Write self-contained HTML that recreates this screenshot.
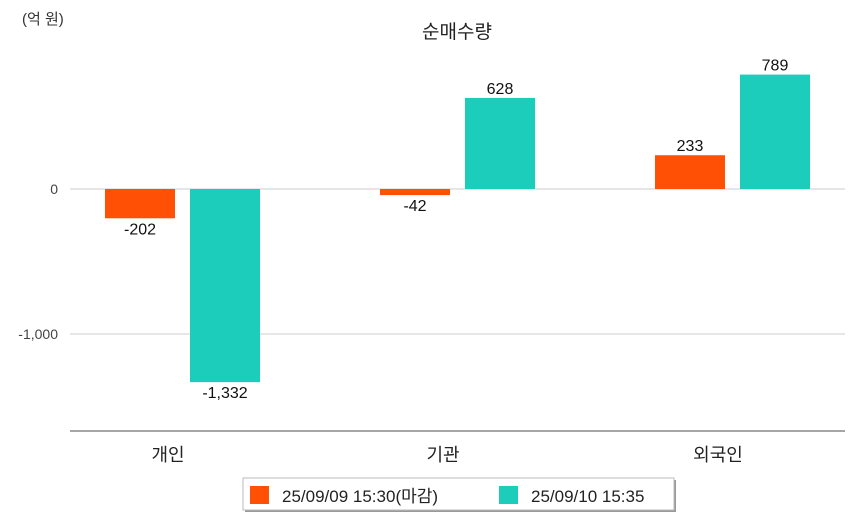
<!DOCTYPE html>
<html><head><meta charset="utf-8"><style>
body{margin:0;background:#fff}
svg{font-family:"Liberation Sans","Noto Sans CJK KR",sans-serif;display:block}
</style></head><body>
<svg id="c" width="854" height="520">
<text x="22" y="24" font-size="15" fill="#333">(억 원)</text>
<text x="457" y="38" font-size="19" fill="#222" text-anchor="middle">순매수량</text>
<g id="grid"></g><g id="bars"></g>
<line x1="70" y1="431" x2="845" y2="431" stroke="#888" stroke-width="1.5"/>
<g>
<rect x="245" y="480" width="431" height="32" fill="#999"/>
<rect x="243" y="478" width="431" height="32" fill="#fff" stroke="#bbb"/>
<g><rect x="250" y="486" width="19" height="18" fill="#ff5005"/><text x="282" y="502" font-size="17" fill="#222">25/09/09 15:30(마감)</text></g>
<g><rect x="499" y="486" width="19" height="18" fill="#1ccdbb"/><text x="531" y="502" font-size="17" fill="#222">25/09/10 15:35</text></g>
</g>
</svg>
<script>
const categories=["개인","기관","외국인"];
const series1=[-202,-42,233];
const series2=[-1332,628,789];
const yTicks=[0,-1000];
const yTickLabels=["0","-1,000"];
const ns="http://www.w3.org/2000/svg";
const y=v=>189-v*0.145;
const cx=i=>182+i*275;
function mk(t,a,p){const e=document.createElementNS(ns,t);for(const k in a)e.setAttribute(k,a[k]);p.appendChild(e);return e;}
const grid=document.getElementById('grid'),bars=document.getElementById('bars');
yTicks.forEach((v,i)=>{
  const l=mk('line',{x1:70,x2:845,y1:y(v),y2:y(v),stroke:'#ccc'},grid);
  
  
  const t=mk('text',{x:58,y:y(v)+5,'font-size':14,fill:'#444','text-anchor':'end'},grid);
  t.textContent=yTickLabels[i];
  
  
});
const fmt=v=>v.toLocaleString('en-US');
categories.forEach((c,i)=>{
  const t=mk('text',{x:cx(i)-14,y:461,'font-size':18,fill:'#222','text-anchor':'middle'},bars);
  t.textContent=c;
  
  
  [[series1,'#ff5005',-77],[series2,'#1ccdbb',8]].forEach(([s,col,off])=>{
    const v=s[i],x0=cx(i)+off,top=Math.min(y(v),y(0)),h=Math.abs(y(v)-y(0));
    const r=mk('rect',{x:x0,y:top,width:70,height:h,fill:col},bars);
    
    
    const lb=mk('text',{x:x0+35,y:v>=0?top-4:top+h+16,'font-size':16,fill:'#111','text-anchor':'middle'},bars);
    lb.textContent=fmt(v);
    
    
  });
});
</script>
</body></html>
